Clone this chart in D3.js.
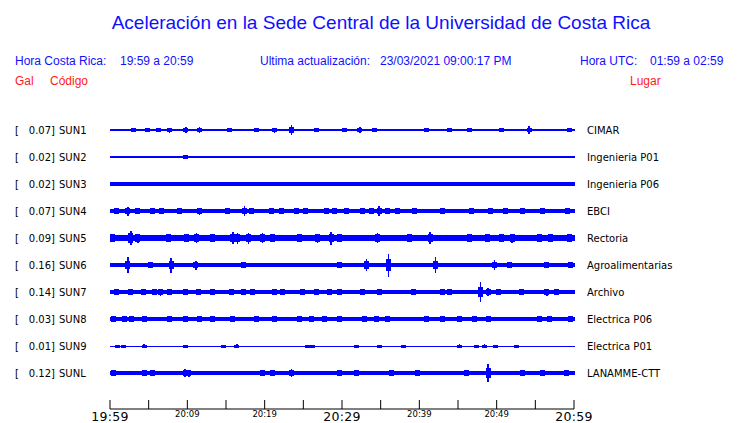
<!DOCTYPE html>
<html><head><meta charset="utf-8">
<script src="https://cdn.jsdelivr.net/npm/d3@7"></script>
<style>body{margin:0;background:#fff}svg{display:block}</style>
</head><body>
<script>
// ---- data ----
const stations = ["SUN1","SUN2","SUN3","SUN4","SUN5","SUN6","SUN7","SUN8","SUN9","SUNL"];
const galValues = [0.07,0.02,0.02,0.07,0.09,0.16,0.14,0.03,0.01,0.12];
const places = ["CIMAR","Ingenieria P01","Ingenieria P06","EBCI","Rectoria","Agroalimentarias","Archivo","Electrica P06","Electrica P01","LANAMME-CTT"];
// background noise level (relative amplitude units)
const baseNoise = [0.8,0.6,1.6,1.8,2.6,1.6,1.6,1.7,0.5,1.6];
// bursts: [minutes after 19:59, relative amplitude]
const evSUN1 = [[3.0,2],[4.9,2],[6.3,2],[7.7,2.5],[9.8,3],[11.6,3],[15.5,2],[19.0,2],[21.3,2.5],[23.5,5],[26.7,2],[30.3,2],[32.3,3],[34.2,2],[40.9,2],[43.9,2],[46.5,2],[50.6,2],[54.2,4],[59.4,2]];
const evSUN2 = [[9.8,2]];
const evSUN3 = [];
const evSUN4 = [[0.9,3],[2.3,4.5],[3.5,3],[5.5,2.5],[6.7,3],[9.0,2.5],[11.6,3.5],[15.2,2.5],[17.4,5],[18.3,3],[20.9,3],[22.2,2.5],[24.1,2.5],[25.3,3],[28.0,2.5],[29.0,3],[30.6,2.5],[32.6,2.5],[33.8,3],[34.8,5],[35.9,2.5],[37.2,2.5],[39.4,2.5],[43.0,3],[46.8,2.5],[49.2,2.5],[51.2,3],[53.3,2.5],[55.9,2.5],[59.1,2.5]];
const evSUN5 = [[0.3,4],[2.7,7],[3.6,4.5],[7.5,4],[9.9,4],[11.2,5],[13.3,4],[15.9,6],[16.5,5.5],[17.9,5.5],[19.7,5],[21.0,4],[24.5,4],[26.8,4.5],[28.6,6.5],[29.7,4],[34.6,5],[38.7,4],[41.4,6],[46.5,4],[48.8,4],[50.6,4],[52.0,4.5],[55.5,4],[57.0,4],[59.4,4]];
const evSUN6 = [[2.3,8],[5.2,3],[7.9,7.5],[11.1,4.5],[17.2,2.5],[29.7,3],[33.2,6],[36.0,11.5],[42.1,8],[49.7,5],[51.6,3],[56.4,3],[59.6,3]];
const evSUN7 = [[0.9,2.5],[2.6,2.5],[4.3,2.5],[5.8,3],[6.5,3.5],[7.7,3],[9.7,2.5],[11.4,3],[13.3,3],[15.7,3],[17.2,2.5],[18.4,3],[21.3,3],[22.3,3],[24.9,3],[26.7,2.5],[28.4,2.5],[29.7,2.5],[32.6,2.5],[34.8,2.5],[39.2,3],[43.0,3],[43.9,3],[47.9,10],[48.9,4],[50.3,2.5],[53.2,3],[56.5,3.5],[57.8,2.5]];
const evSUN8 = [[0.4,2.5],[1.9,2.5],[2.8,2.5],[4.5,2.5],[7.7,2.5],[9.7,2.5],[11.6,3],[13.3,2.5],[15.9,2.5],[19.0,3],[21.3,2.5],[24.5,2.5],[26.1,2.5],[27.7,2.5],[29.7,2.5],[32.9,2.5],[34.5,3],[35.9,2.5],[40.9,2.5],[43.0,2.5],[45.2,2.5],[47.1,2.5],[49.0,3],[55.5,3],[56.8,2.5],[59.6,2.5]];
const evSUN9 = [[1.0,1.5],[1.8,1.5],[4.4,2],[9.8,1.5],[14.7,1.5],[16.4,2],[25.5,1.5],[26.2,1.5],[31.9,1.5],[34.8,1.5],[37.9,1.5],[45.2,2],[47.4,1.5],[48.4,2],[49.8,1.5],[52.5,1.5]];
const evSUNL = [[0.5,2.5],[4.5,3],[5.5,2.5],[9.7,4],[10.2,3.5],[19.7,2.5],[21.0,2.5],[23.5,4],[29.7,3],[31.9,2.5],[36.4,3],[39.7,2.5],[46.1,2.5],[48.9,9],[53.3,2.5],[55.9,2.5],[59.0,3]];
const events = [evSUN1,evSUN2,evSUN3,evSUN4,evSUN5,evSUN6,evSUN7,evSUN8,evSUN9,evSUNL];
const tickMinutes = [0,5,10,15,20,25,30,35,40,45,50,55,60];
const tickLabels = ["19:59","","20:09","","20:19","","20:29","","20:39","","20:49","","20:59"];
const majorLabels = ["19:59","20:29","20:59"];

// ---- chart ----
const W = 740, H = 423;
const blue = "#0000ff", red = "#ff1a1a", hdr = "#1010ff";
const svg = d3.select("body").append("svg").attr("width", W).attr("height", H);

svg.append("text").attr("x", 381).attr("y", 29).attr("text-anchor", "middle")
  .attr("font-family", "Liberation Sans, Arial, sans-serif").attr("font-size", 19)
  .attr("fill", hdr).text("Aceleración en la Sede Central de la Universidad de Costa Rica");

const hf = "Liberation Sans, Arial, sans-serif";
[["Hora Costa Rica:",15],["19:59 a 20:59",120],["Ultima actualización:",260],["23/03/2021 09:00:17 PM",380],["Hora UTC:",580],["01:59 a 02:59",650]]
  .forEach(([t,x]) => svg.append("text").attr("x", x).attr("y", 65).attr("font-family", hf)
    .attr("font-size", 12).attr("fill", hdr).text(t));
[["Gal",15],["Código",50],["Lugar",630]]
  .forEach(([t,x]) => svg.append("text").attr("x", x).attr("y", 85).attr("font-family", hf)
    .attr("font-size", 12).attr("fill", red).text(t));

const x = d3.scaleLinear().domain([0, 60]).range([110, 574]);
const y = d3.scalePoint().domain(stations).range([130, 373]);
const amp = d3.scaleLinear().domain([0, 12]).range([0, 12]);

const lf = "DejaVu Sans, sans-serif";
stations.forEach((s, i) => {
  const cy = y(s);
  svg.append("text").attr("x", 15).attr("y", cy + 4).attr("font-family", lf).attr("font-size", 10).text("[");
  svg.append("text").attr("x", 55).attr("y", cy + 4).attr("font-family", lf).attr("font-size", 10)
    .attr("text-anchor", "end").text(galValues[i].toFixed(2) + "]");
  svg.append("text").attr("x", 59).attr("y", cy + 4).attr("font-family", lf).attr("font-size", 10).text(s);
  svg.append("text").attr("x", 587).attr("y", cy + 4).attr("font-family", lf).attr("font-size", 10).text(places[i]);

  const g = svg.append("g").attr("fill", blue).attr("shape-rendering", "crispEdges");
  const b = amp(baseNoise[i]);
  g.append("rect").attr("x", x(0)).attr("width", x(60) - x(0) + 1)
    .attr("y", cy - b).attr("height", 2 * b);
  g.selectAll("rect.sp").data(events[i]).join("rect").attr("class", "sp")
    .attr("x", d => x(d[0]) - 0.75).attr("width", 1.5)
    .attr("y", d => cy - amp(d[1])).attr("height", d => 2 * amp(d[1]));
  const bh = d => Math.max(b + 1, b + (amp(d[1]) - b) * 0.45);
  g.selectAll("rect.bx").data(events[i]).join("rect").attr("class", "bx")
    .attr("x", d => x(d[0]) - 2.5).attr("width", 5)
    .attr("y", d => cy - bh(d)).attr("height", d => 2 * bh(d));
});

// time axis
const ay = 409;
svg.append("line").attr("x1", x(0)).attr("x2", x(60)).attr("y1", ay).attr("y2", ay).attr("stroke", "#000");
svg.selectAll("line.tk").data(tickMinutes).join("line").attr("class", "tk")
  .attr("x1", d => x(d)).attr("x2", d => x(d)).attr("y1", ay).attr("y2", ay - 9).attr("stroke", "#000");
svg.selectAll("text.tl").data(tickMinutes).join("text").attr("class", "tl")
  .attr("x", d => x(d)).attr("text-anchor", "middle").attr("font-family", lf)
  .attr("y", (d, i) => majorLabels.includes(tickLabels[i]) ? 421 : 417)
  .attr("font-size", (d, i) => majorLabels.includes(tickLabels[i]) ? 12.5 : 8.5)
  .attr("letter-spacing", (d, i) => majorLabels.includes(tickLabels[i]) ? 0.3 : 0)
  .text((d, i) => tickLabels[i]);
</script>
</body></html>
